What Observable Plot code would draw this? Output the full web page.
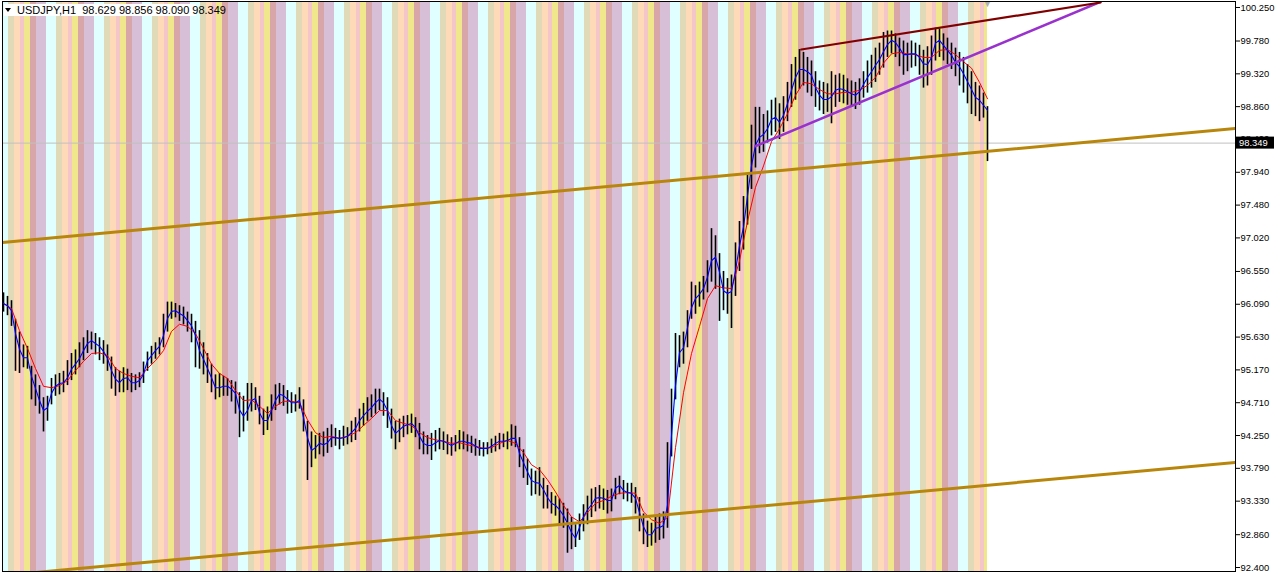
<!DOCTYPE html>
<html>
<head>
<meta charset="utf-8">
<script src="https://cdn.jsdelivr.net/npm/d3@7"></script>
<script src="https://cdn.jsdelivr.net/npm/@observablehq/plot@0.6"></script>
<style>
  body { margin: 0; background: #fff; }
</style>
</head>
<body>
<div id="chart"></div>
<script>
const highs = [
  96.25, 96.20, 96.14, 95.88, 95.70, 95.52, 95.50, 95.22, 95.10, 94.95, 94.78, 94.80, 95.05, 95.10, 95.12, 95.15, 95.30, 95.40, 95.45, 95.55,
  95.62, 95.72, 95.70, 95.68, 95.62, 95.58, 95.52, 95.35, 95.20, 95.15, 95.20, 95.18, 95.12, 95.10, 95.13, 95.28, 95.42, 95.50, 95.55, 95.62,
  95.95, 96.12, 96.12, 96.10, 96.07, 96.05, 95.98, 95.95, 95.85, 95.72,
  95.55, 95.40, 95.25, 95.10, 95.12, 95.08, 95.05, 95.02, 95.00, 94.85, 94.80, 94.98, 94.98, 94.92, 94.80, 94.62, 94.65, 94.82, 94.96, 94.98,
  94.95, 94.88, 94.85, 94.82, 94.92, 94.75, 94.45, 94.30, 94.25, 94.28, 94.30, 94.35, 94.40, 94.35, 94.32, 94.38, 94.36, 94.45, 94.50, 94.62,
  94.70, 94.78, 94.82, 94.90, 94.90, 94.85, 94.78,
  94.62, 94.45, 94.48, 94.52, 94.53, 94.55, 94.50, 94.42, 94.30, 94.25, 94.28, 94.32, 94.35, 94.30, 94.26, 94.22, 94.25, 94.32, 94.30, 94.26,
  94.24, 94.20, 94.18, 94.15, 94.15, 94.20, 94.24, 94.28, 94.27, 94.30, 94.40, 94.38, 94.22, 94.05, 93.92, 93.78, 93.75, 93.80, 93.65, 93.55,
  93.45, 93.40, 93.36, 93.30, 93.22, 93.10, 93.00, 93.15,
  93.28, 93.40, 93.50, 93.52, 93.55, 93.50, 93.48, 93.50, 93.65, 93.68, 93.62, 93.58, 93.58, 93.52, 93.38, 93.15, 93.05, 93.02, 93.12, 93.15,
  93.18,
  94.15, 94.90, 95.68, 95.65, 95.70, 96.00, 96.40, 96.35, 96.40, 96.48, 96.70, 97.15, 97.05, 96.80, 96.55, 96.45, 96.50, 96.95, 97.25, 97.60,
  97.90, 98.60, 98.85, 98.85, 98.75, 98.80, 98.95,
  98.98, 98.90, 99.00, 99.20, 99.45, 99.55, 99.66, 99.62, 99.55, 99.50, 99.35, 99.22, 99.20, 99.18, 99.35, 99.30, 99.32, 99.30, 99.25, 99.22,
  99.20, 99.25, 99.35, 99.50, 99.58, 99.68, 99.75, 99.90, 99.92, 99.92, 99.88, 99.82, 99.78, 99.75, 99.78, 99.75, 99.72, 99.65, 99.70, 99.85,
  99.96, 99.95, 99.88, 99.82, 99.75, 99.68, 99.62, 99.55, 99.45, 99.35, 99.20, 99.15, 99.05, 98.86
];
const lows = [
  95.98, 95.93, 95.78, 95.15, 95.12, 95.20, 95.18, 94.75, 94.66, 94.55, 94.30, 94.45, 94.68, 94.80, 94.82, 94.85, 94.95, 95.02, 95.10, 95.20,
  95.30, 95.40, 95.45, 95.38, 95.30, 95.25, 95.15, 94.90, 94.80, 94.85, 94.85, 94.88, 94.85, 94.88, 94.92, 94.98, 95.15, 95.25, 95.32, 95.38,
  95.48, 95.70, 95.88, 95.90, 95.85, 95.80, 95.70, 95.55, 95.20, 95.18,
  95.10, 94.98, 94.85, 94.75, 94.78, 94.80, 94.80, 94.72, 94.55, 94.22, 94.30, 94.45, 94.58, 94.60, 94.40, 94.25, 94.32, 94.45, 94.60, 94.68,
  94.66, 94.55, 94.56, 94.58, 94.62, 94.30, 93.62, 93.80, 93.92, 93.98, 93.95, 94.00, 94.08, 94.10, 94.05, 94.10, 94.12, 94.15, 94.18, 94.30,
  94.38, 94.45, 94.50, 94.55, 94.60, 94.52, 94.35,
  94.20, 94.05, 94.15, 94.22, 94.26, 94.28, 94.22, 94.05, 93.98, 93.98, 93.90, 94.02, 94.05, 94.04, 93.98, 93.96, 94.02, 94.05, 94.05, 94.02,
  94.00, 93.96, 93.96, 93.95, 93.98, 94.00, 94.02, 94.05, 94.08, 94.05, 94.10, 94.08, 93.80, 93.65, 93.55, 93.40, 93.42, 93.40, 93.22, 93.22,
  93.15, 93.12, 93.00, 92.95, 92.60, 92.65, 92.68, 92.78,
  92.90, 93.00, 93.10, 93.18, 93.22, 93.20, 93.15, 93.18, 93.35, 93.42, 93.35, 93.32, 93.30, 93.15, 92.90, 92.72, 92.68, 92.70, 92.74, 92.78,
  92.80,
  92.95, 93.95, 94.75, 95.20, 95.25, 95.48, 95.88, 95.95, 96.05, 96.15, 96.25, 96.40, 96.30, 95.85, 96.00, 95.95, 95.75, 96.20, 96.55, 96.85,
  97.20, 97.70, 98.00, 98.20, 98.22, 98.35, 98.45,
  98.50, 98.40, 98.50, 98.65, 98.85, 98.95, 99.10, 99.15, 99.05, 99.00, 98.85, 98.80, 98.75, 98.78, 98.62, 98.85, 98.92, 98.90, 98.88, 98.85,
  98.82, 98.88, 98.98, 99.05, 99.12, 99.20, 99.30, 99.40, 99.55, 99.60, 99.55, 99.42, 99.30, 99.35, 99.40, 99.42, 99.30, 99.12, 99.15, 99.30,
  99.50, 99.55, 99.50, 99.45, 99.38, 99.28, 99.15, 99.05, 98.90, 98.75, 98.72, 98.65, 98.70, 98.09
];
// media rapida (azul), un valor por barra de 2 horas
const fastMa = [
  96.10, 96.07, 96.00, 95.68, 95.46, 95.34, 95.34, 95.08, 94.91, 94.74, 94.60, 94.64, 94.84, 94.94, 94.98, 94.99, 95.06, 95.18, 95.25, 95.33,
  95.44, 95.54, 95.58, 95.54, 95.50, 95.43, 95.33, 95.16, 95.04, 94.99, 95.05, 95.06, 94.99, 94.99, 95.02, 95.11, 95.30, 95.37, 95.44, 95.50,
  95.65, 95.89, 95.99, 96.00, 95.96, 95.93, 95.86, 95.79, 95.65, 95.44,
  95.32, 95.19, 95.06, 94.92, 94.92, 94.94, 94.94, 94.90, 94.84, 94.61, 94.52, 94.60, 94.74, 94.77, 94.57, 94.46, 94.46, 94.60, 94.74, 94.83,
  94.81, 94.76, 94.71, 94.71, 94.74, 94.50, 94.22, 94.04, 94.08, 94.14, 94.12, 94.15, 94.22, 94.22, 94.21, 94.22, 94.24, 94.29, 94.35, 94.46,
  94.53, 94.59, 94.64, 94.71, 94.76, 94.71, 94.60,
  94.39, 94.28, 94.33, 94.38, 94.40, 94.42, 94.36, 94.24, 94.14, 94.11, 94.11, 94.15, 94.18, 94.17, 94.14, 94.11, 94.14, 94.17, 94.17, 94.15,
  94.14, 94.10, 94.07, 94.07, 94.07, 94.10, 94.14, 94.17, 94.17, 94.18, 94.21, 94.21, 94.00, 93.87, 93.74, 93.62, 93.59, 93.58, 93.49, 93.38,
  93.30, 93.27, 93.21, 93.13, 93.02, 92.89, 92.81, 92.96,
  93.11, 93.21, 93.28, 93.37, 93.38, 93.37, 93.34, 93.34, 93.51, 93.55, 93.48, 93.45, 93.44, 93.37, 93.17, 92.97, 92.86, 92.86, 92.95, 92.96,
  92.99,
  93.27, 94.25, 94.95, 95.41, 95.48, 95.76, 96.04, 96.17, 96.23, 96.31, 96.47, 96.70, 96.75, 96.54, 96.28, 96.24, 96.27, 96.56, 96.91, 97.17,
  97.61, 98.03, 98.32, 98.43, 98.47, 98.55, 98.68,
  98.71, 98.64, 98.74, 98.90, 99.09, 99.27, 99.38, 99.38, 99.35, 99.30, 99.13, 99.02, 98.96, 98.96, 99.00, 99.09, 99.11, 99.10, 99.07, 99.04,
  99.02, 99.07, 99.17, 99.27, 99.35, 99.44, 99.52, 99.63, 99.73, 99.79, 99.76, 99.68, 99.59, 99.59, 99.60, 99.60, 99.55, 99.46, 99.45, 99.55,
  99.75, 99.79, 99.72, 99.65, 99.58, 99.48, 99.42, 99.32, 99.21, 99.10, 98.99, 98.95, 98.88, 98.81
];
// media lenta (roja), un valor cada 4 horas
const slowMa = [
  96.10, 96.03, 95.72, 95.47, 95.19, 94.94, 94.92, 94.95, 95.02, 95.16,
  95.29, 95.40, 95.41, 95.37, 95.19, 95.12, 95.08, 95.06, 95.19, 95.30,
  95.44, 95.71, 95.81, 95.78, 95.68, 95.47, 95.25, 95.12, 95.05, 94.88,
  94.74, 94.75, 94.66, 94.56, 94.66, 94.73, 94.73, 94.71, 94.47, 94.29,
  94.22, 94.24, 94.21, 94.24, 94.29, 94.39, 94.49, 94.60, 94.60, 94.46,
  94.42, 94.39, 94.29, 94.22, 94.19, 94.17, 94.14, 94.15, 94.12, 94.10,
  94.07, 94.08, 94.14, 94.18, 94.14, 94.01, 93.84, 93.77, 93.63, 93.46,
  93.27, 93.11, 93.04, 93.17, 93.30, 93.34, 93.40, 93.44, 93.45, 93.44,
  93.18, 93.07, 93.02, 93.10, 94.08, 94.85, 95.40, 95.78, 96.17, 96.35,
  96.32, 96.31, 96.70, 97.25, 97.73, 98.03, 98.37, 98.55, 98.76, 99.02,
  99.20, 99.18, 99.10, 99.04, 99.04, 99.06, 99.06, 99.09, 99.16, 99.27,
  99.47, 99.60, 99.62, 99.60, 99.59, 99.55, 99.55, 99.65, 99.66, 99.59,
  99.49, 99.40, 99.20, 98.97
];

const yTicks = [100.25, 99.78, 99.32, 98.86, 98.40, 97.94, 97.48, 97.02, 96.55, 96.09, 95.63, 95.17, 94.71, 94.25, 93.79, 93.33, 92.86, 92.40];
const lastPrice = 98.349;
const titleText = "USDJPY,H1  98.629 98.856 98.090 98.349";

// franjas de sesion (horas del dia)
const sessionStarts = [0, 3, 6, 8, 11, 14, 19];
const sessionEnds   = [3, 6, 8, 11, 14, 19, 24];
const sessionColors = ["#e0dab8", "#ffdab9", "#f4c5c9", "#f0e68c", "#d8a6a9", "#d8bfd8", "#e0ffff"];
const firstHour = 21;      // hora del primer bar
const lastHour = 492.5;    // fin de la historia (en horas)

// lineas de tendencia [hora, precio]
const channelUpper = [[0, 96.956], [616.5, 98.554]];
const channelLower = [[0, 92.288], [616.5, 93.872]];
const topLine = [[399.35, 99.661], [549, 100.32]];
const wedgeLine = [[376.5, 98.306], [549, 100.33]];

const bars = highs.map((h, i) => ({t: i * 2 + 0.5, high: h, low: lows[i], fast: fastMa[i]}));
const slow = slowMa.map((v, j) => ({t: j * 4 + 0.5, v}));

const stripes = [];
for (let d = -1; d <= 21; d++) {
  sessionStarts.forEach((s, k) => {
    const a = (24 - firstHour) + 24 * d + s;
    const b = (24 - firstHour) + 24 * d + sessionEnds[k];
    const x1 = Math.max(a, 0), x2 = Math.min(b, lastHour);
    if (x2 > x1) stripes.push({x1, x2, color: sessionColors[k]});
  });
}

const yDom = [92.344, 100.334];

const chart = Plot.plot({
  width: 1275,
  height: 573,
  marginLeft: 2,
  marginRight: 40,
  marginTop: 1,
  marginBottom: 2,
  x: {domain: [0, 616.5], axis: null},
  y: {domain: yDom},
  color: {type: "identity"},
  style: {fontFamily: "Liberation Sans, Arial, sans-serif", fontSize: "10px", background: "white", overflow: "visible"},
  marks: [
    Plot.rect(stripes, {x1: "x1", x2: "x2", y1: yDom[0], y2: yDom[1], fill: "color", shapeRendering: "crispEdges"}),
    Plot.ruleY([lastPrice], {stroke: "#c0c0c0", strokeWidth: 1}),
    Plot.ruleX(bars, {x: "t", y1: "low", y2: "high", stroke: "black", strokeWidth: 1.6}),
    Plot.line(slow, {x: "t", y: "v", stroke: "#ff0000", strokeWidth: 1}),
    Plot.line(bars, {x: "t", y: "fast", stroke: "#0000ff", strokeWidth: 1.1}),
    Plot.line(channelUpper, {x: d => d[0], y: d => d[1], stroke: "#b8860b", strokeWidth: 3, clip: true}),
    Plot.line(channelLower, {x: d => d[0], y: d => d[1], stroke: "#b8860b", strokeWidth: 3, clip: true}),
    Plot.line(wedgeLine, {x: d => d[0], y: d => d[1], stroke: "#9932cc", strokeWidth: 2.5, clip: true}),
    Plot.line(topLine, {x: d => d[0], y: d => d[1], stroke: "#800000", strokeWidth: 2.2, clip: true}),
    Plot.text(["\u25BC"], {x: lastHour, y: yDom[1], dy: 3, text: d => d, fill: "#b0b0b0", fontSize: 9}),
    Plot.frame({stroke: "black"}),
    Plot.axisY(yTicks, {anchor: "right", tickSize: 4, tickPadding: 1, tickFormat: d => d.toFixed(3), fill: "black", fontSize: 9.4})
  ]
});

const svg = d3.select(chart);
const yScale = chart.scale("y");
const py = yScale.apply(lastPrice);

// etiqueta del precio actual
svg.append("rect").attr("x", 1236).attr("y", py - 6).attr("width", 38).attr("height", 12).attr("fill", "black");
svg.append("text").attr("x", 1239).attr("y", py + 3.5).attr("fill", "white")
  .attr("text-anchor", "start").attr("font-size", 9.4).text(lastPrice.toFixed(3));

// titulo arriba a la izquierda
svg.append("rect").attr("x", 4).attr("y", 4).attr("width", 192).attr("height", 12).attr("fill", "white");
svg.append("path").attr("d", "M5,8 L11,8 L8,12 Z").attr("fill", "black");
svg.append("text").attr("x", 17).attr("y", 14).attr("fill", "black").attr("font-size", 11)
  .attr("text-anchor", "start").style("white-space", "pre").text(titleText);

d3.select("#chart").append(() => chart);
</script>
</body>
</html>
